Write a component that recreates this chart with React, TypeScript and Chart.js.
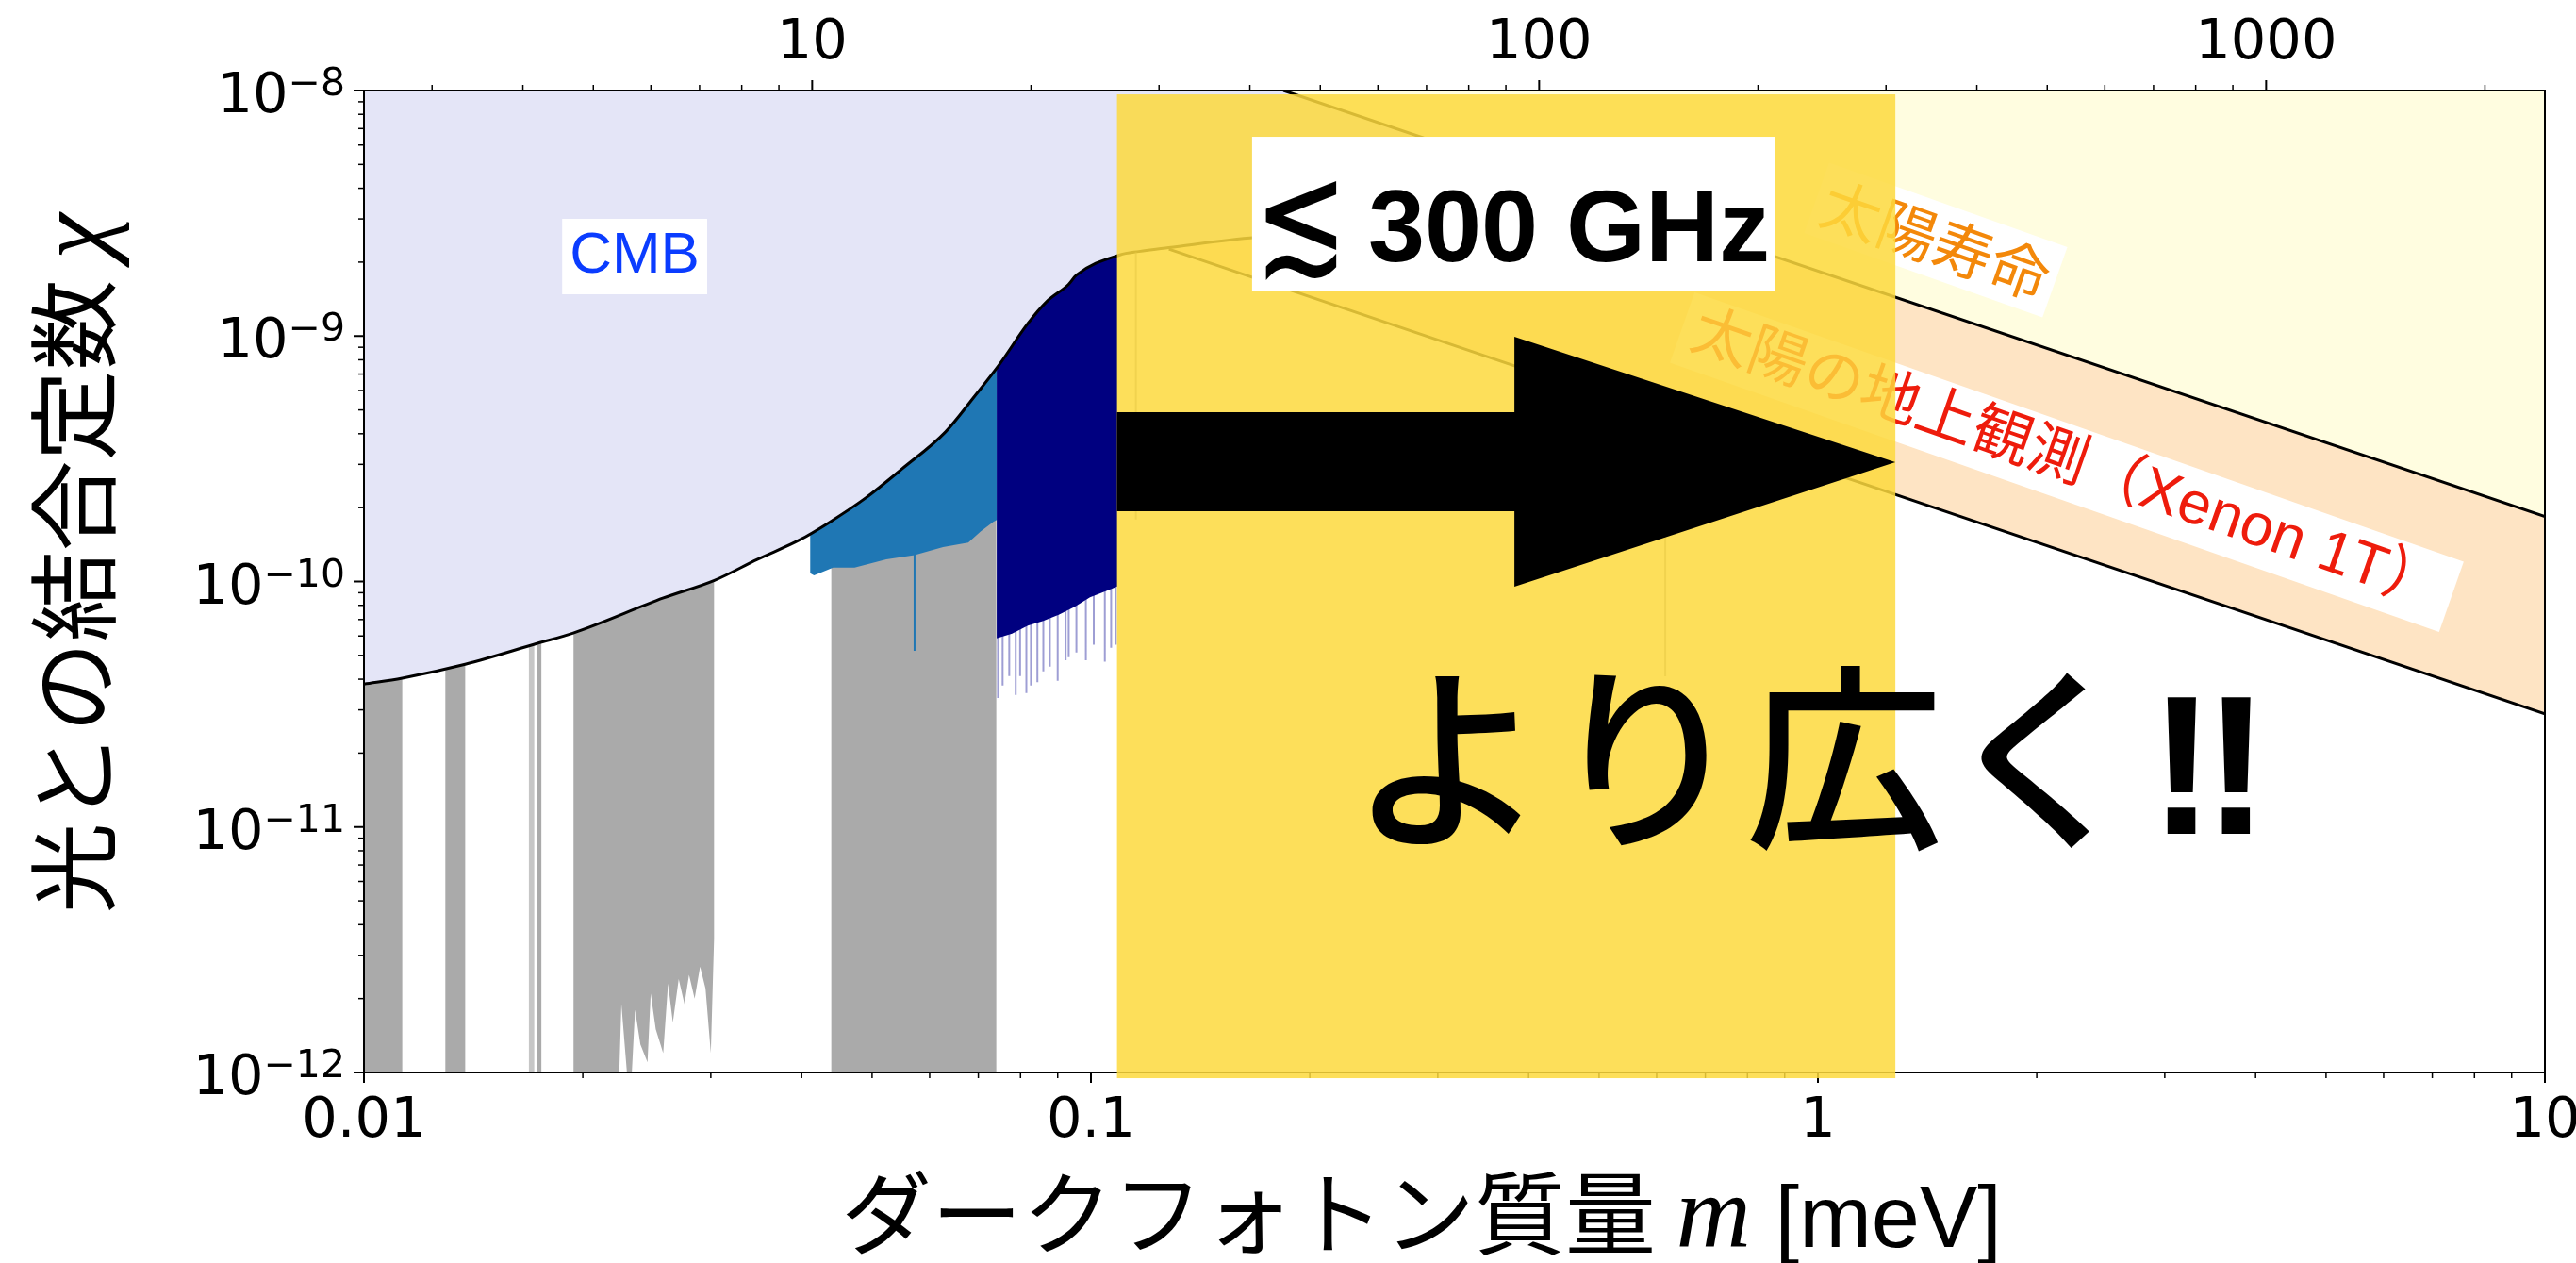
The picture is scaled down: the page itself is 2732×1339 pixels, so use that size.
import React, { useEffect, useRef } from 'react';
import { Chart, registerables } from 'chart.js';

Chart.register(...registerables);

// ---------- axes ----------
const M_MIN = 0.01;
const M_MAX = 10;
const CHI_MIN = 1e-12;
const CHI_MAX = 1e-8;
const GHZ_PER_MEV = 241.8;

const X_TICKS = [0.01, 0.1, 1, 10];
const X_TICK_LABELS = ['0.01', '0.1', '1', '10'];
const GHZ_TICKS = [10, 100, 1000];
const GHZ_TICK_LABELS = ['10', '100', '1000'];
const Y_TICKS = [1e-8, 1e-9, 1e-10, 1e-11, 1e-12];
const Y_TICK_EXPONENTS = ['\u22128', '\u22129', '\u221210', '\u221211', '\u221212'];

// ---------- CMB limit (black curve, lavender above) ----------
const CMB_M = [0.01, 0.01129, 0.01378, 0.01733, 0.01941, 0.02582, 0.03034, 0.03475, 0.0398, 0.04365, 0.049, 0.055, 0.0631, 0.0692, 0.0748, 0.0818, 0.0869, 0.0931, 0.0955, 0.1096, 0.1164, 0.1279, 0.1683, 0.2188, 0.302, 0.45, 0.76];
const CMB_CHI = [3.82e-11, 4.04e-11, 4.6e-11, 5.6e-11, 6.17e-11, 8.57e-11, 1.01e-10, 1.23e-10, 1.48e-10, 1.74e-10, 2.19e-10, 2.88e-10, 4.07e-10, 5.69e-10, 7.64e-10, 1.12e-9, 1.38e-9, 1.62e-9, 1.77e-9, 2.14e-9, 2.21e-9, 2.29e-9, 2.52e-9, 2.6e-9, 2.63e-9, 2.6e-9, 2.45e-9];

// ---------- solar lifetime & XENON1T lines ----------
const SUN_M = [0.184, 10];
const SUN_CHI = [1e-8, 1.84e-10];
const XENON_M = [0.128, 10];
const XENON_CHI = [2.26e-9, 2.89e-11];

// ---------- haloscope-type bands (gray) ----------
const GRAY_BAND_LEFT = [0.01, 0.01294, 0.01729, 0.04394];
const GRAY_BAND_RIGHT = [0.01129, 0.01378, 0.01754, 0.0741];
const LIGHT_GRAY_BAND = [0.01686, 0.01715];
const GRAY4_M = [0.01942, 0.02245, 0.0226, 0.023, 0.02336, 0.0236, 0.024, 0.02455, 0.0248, 0.0252, 0.0258, 0.0262, 0.0266, 0.0271, 0.0276, 0.028, 0.0285, 0.029, 0.0295, 0.03, 0.03031];
const GRAY4_LOW = [1e-12, 1e-12, 1.9e-12, 1e-12, 1e-12, 1.8e-12, 1.3e-12, 1.1e-12, 2.1e-12, 1.5e-12, 1.2e-12, 2.3e-12, 1.6e-12, 2.4e-12, 1.9e-12, 2.5e-12, 2.0e-12, 2.7e-12, 2.2e-12, 1.2e-12, 3.5e-12];

// ---------- blue region ----------
const BLUE_M = [0.0411, 0.0416, 0.0442, 0.0473, 0.0523, 0.0572, 0.0626, 0.0678, 0.0705, 0.0734, 0.0742];
const BLUE_LOW = [1.08e-10, 1.06e-10, 1.14e-10, 1.14e-10, 1.23e-10, 1.28e-10, 1.38e-10, 1.44e-10, 1.6e-10, 1.75e-10, 1.78e-10];
const BLUE_SPIKE_M = [0.0572];
const BLUE_SPIKE_LOW = [5.22e-11];

// ---------- navy region ----------
const NAVY_M = [0.0742, 0.0779, 0.0819, 0.086, 0.0903, 0.095, 0.0997, 0.1048, 0.1087];
const NAVY_LOW = [5.87e-11, 6.13e-11, 6.61e-11, 6.91e-11, 7.32e-11, 7.89e-11, 8.62e-11, 9.14e-11, 9.55e-11];
const NAVY_SPIKE_M = [0.0745, 0.0756, 0.0772, 0.0788, 0.0799, 0.0815, 0.0827, 0.0844, 0.086, 0.0878, 0.09, 0.0923, 0.0932, 0.0955, 0.0984, 0.1009, 0.1045, 0.1066, 0.1082];
const NAVY_SPIKE_LOW = [3.35e-11, 3.77e-11, 4.12e-11, 3.45e-11, 4.12e-11, 3.51e-11, 3.77e-11, 3.89e-11, 4.31e-11, 4.5e-11, 3.94e-11, 4.78e-11, 4.92e-11, 5.14e-11, 4.78e-11, 5.53e-11, 4.71e-11, 5.37e-11, 5.53e-11];

// ---------- faint edges under the highlight ----------
const FAINT_M = [0.1153, 0.6166];
const FAINT_TOP = [2.2e-9, 4.69e-10];
const FAINT_LOW = [1.79e-10, 4.11e-11];

// ---------- annotations (data coordinates) ----------
const OVERLAY_M = [0.1086, 1.278];
const OVERLAY_CHI = [9.65e-9, 9.48e-13];
const ARROW_M = [0.1086, 0.3824, 0.3824, 1.278, 0.3824, 0.3824, 0.1086];
const ARROW_CHI = [4.89e-10, 4.89e-10, 9.93e-10, 3.06e-10, 9.53e-11, 1.933e-10, 1.933e-10];
const GHZ_BOX_M = [0.1666, 0.874];
const GHZ_BOX_CHI = [6.48e-9, 1.519e-9];
const CMB_LABEL_POS = [0.02357, 2.107e-9];
const SUN_LABEL_POS = [1.4527, 2.46e-9];
const XENON_LABEL_POS = [2.2, 3.062e-10];
const BIG_TEXT_POS = [0.2266, 9.37e-12];

const LAVENDER = '#e4e5f7';
const LIGHT_YELLOW = '#fffde0';
const PEACH = '#fee4c4';
const GRAY = '#aaaaaa';
const NAVY = '#000080';
const TAB_BLUE = '#1f77b4';
const HIGHLIGHT = 'rgba(253,217,61,0.85)';

const pts = (xs: number[], ys: number[]) => xs.map((x, i) => ({ x, y: ys[i] }));
const rect = (m0: number, m1: number, lo: number, hi: number) => [
  { x: m0, y: lo }, { x: m1, y: lo }, { x: m1, y: hi }, { x: m0, y: hi },
];
const lowerPoly = (xs: number[], lows: number[]) => [
  ...pts(xs, lows),
  { x: xs[xs.length - 1], y: CHI_MAX },
  { x: xs[0], y: CHI_MAX },
];
const spikes = (xs: number[], lows: number[], top: number) => {
  const out: { x: number; y: number | null }[] = [];
  xs.forEach((x, i) => {
    out.push({ x, y: lows[i] }, { x, y: top }, { x, y: null });
  });
  return out;
};

const poly = (data: any[], color: string, order: number) => ({
  data, fill: 'shape', backgroundColor: color, borderColor: 'transparent', borderWidth: 0,
  pointRadius: 0, pointHoverRadius: 0, order,
});
const line = (data: any[], color: string, width: number, order: number, extra: any = {}) => ({
  data, fill: false, borderColor: color, borderWidth: width, pointRadius: 0, pointHoverRadius: 0, order, ...extra,
});

function buildDatasets() {
  const ds: any[] = [];
  ds.push(poly([{ x: XENON_M[0], y: XENON_CHI[0] }, { x: XENON_M[1], y: XENON_CHI[1] }, { x: M_MAX, y: CHI_MAX }, { x: XENON_M[0], y: CHI_MAX }], PEACH, 100));
  GRAY_BAND_LEFT.forEach((l, i) => ds.push(poly(rect(l, GRAY_BAND_RIGHT[i], CHI_MIN, CHI_MAX), GRAY, 90)));
  ds.push(poly(rect(LIGHT_GRAY_BAND[0], LIGHT_GRAY_BAND[1], CHI_MIN, CHI_MAX), '#c6c6c6', 90));
  ds.push(poly(lowerPoly(GRAY4_M, GRAY4_LOW), GRAY, 89));
  ds.push(line(spikes(NAVY_SPIKE_M, NAVY_SPIKE_LOW, 1e-10), 'rgba(40,40,160,0.45)', 2, 85, { spanGaps: false }));
  ds.push(poly(lowerPoly(BLUE_M, BLUE_LOW), TAB_BLUE, 84));
  ds.push(line(spikes(BLUE_SPIKE_M, BLUE_SPIKE_LOW, 1.3e-10), TAB_BLUE, 2, 83, { spanGaps: false }));
  ds.push(poly(lowerPoly(NAVY_M, NAVY_LOW), NAVY, 82));
  ds.push({
    data: pts(CMB_M, CMB_CHI), fill: 'end', backgroundColor: LAVENDER, borderColor: '#000', borderWidth: 3,
    pointRadius: 0, pointHoverRadius: 0, cubicInterpolationMode: 'monotone', order: 70,
  });
  ds.push(poly([{ x: SUN_M[0], y: SUN_CHI[0] }, { x: SUN_M[1], y: SUN_CHI[1] }, { x: M_MAX, y: CHI_MAX }], LIGHT_YELLOW, 65));
  ds.push(line(pts(SUN_M, SUN_CHI), '#000', 3, 60));
  ds.push(line(pts(XENON_M, XENON_CHI), '#000', 3, 59));
  const faint: any[] = [];
  FAINT_M.forEach((m, i) => faint.push({ x: m, y: FAINT_TOP[i] }, { x: m, y: FAINT_LOW[i] }, { x: m, y: null }));
  ds.push(line(faint, 'rgba(110,110,110,0.55)', 2, 50, { spanGaps: false }));
  return ds;
}

function decadeTicks(lo: number, hi: number) {
  const out: { v: number; major: boolean }[] = [];
  for (let e = Math.floor(Math.log10(lo)) - 1; e <= Math.ceil(Math.log10(hi)); e++) {
    for (let k = 1; k <= 9; k++) {
      const v = k * Math.pow(10, e);
      if (v >= lo * (1 - 1e-9) && v <= hi * (1 + 1e-9)) out.push({ v, major: k === 1 });
    }
  }
  return out;
}

const TICK_FONT = '59px "DejaVu Sans"';
const EXP_FONT = '41px "DejaVu Sans"';
const CJK = '"Noto Sans CJK JP"';

const annotate = {
  id: 'annotate',
  afterDatasetsDraw(chart: any) {
    const ctx: CanvasRenderingContext2D = chart.ctx;
    const xs = chart.scales.x, ys = chart.scales.y, xg = chart.scales.x2;
    const X = (m: number) => xs.getPixelForValue(m);
    const Y = (c: number) => ys.getPixelForValue(c);
    const { left, right, top, bottom } = chart.chartArea;
    ctx.save();

    // frame
    ctx.strokeStyle = '#000';
    ctx.lineWidth = 2;
    ctx.strokeRect(left, top, right - left, bottom - top);

    // ticks
    const seg = (x0: number, y0: number, x1: number, y1: number, w: number) => {
      ctx.lineWidth = w; ctx.beginPath(); ctx.moveTo(x0, y0); ctx.lineTo(x1, y1); ctx.stroke();
    };
    for (const t of decadeTicks(M_MIN, M_MAX)) {
      const px = X(t.v);
      seg(px, bottom, px, bottom + (t.major ? 11 : 6), t.major ? 2 : 1.5);
    }
    for (const t of decadeTicks(M_MIN * GHZ_PER_MEV, M_MAX * GHZ_PER_MEV)) {
      const px = xg.getPixelForValue(t.v);
      seg(px, top, px, top - (t.major ? 11 : 6), t.major ? 2 : 1.5);
    }
    for (const t of decadeTicks(CHI_MIN, CHI_MAX)) {
      const py = Y(t.v);
      seg(left, py, left - (t.major ? 11 : 6), py, t.major ? 2 : 1.5);
    }

    // tick labels
    ctx.fillStyle = '#000';
    ctx.font = TICK_FONT;
    ctx.textAlign = 'center';
    ctx.textBaseline = 'alphabetic';
    X_TICKS.forEach((v, i) => ctx.fillText(X_TICK_LABELS[i], X(v), bottom + 68));
    GHZ_TICKS.forEach((v, i) => ctx.fillText(GHZ_TICK_LABELS[i], xg.getPixelForValue(v), top - 34));
    ctx.textAlign = 'left';
    Y_TICKS.forEach((v, i) => {
      const py = Y(v);
      ctx.font = EXP_FONT;
      const ew = ctx.measureText(Y_TICK_EXPONENTS[i]).width;
      ctx.font = TICK_FONT;
      const bw = ctx.measureText('10').width;
      const xr = left - 20;
      ctx.fillText('10', xr - ew - bw, py + 23);
      ctx.font = EXP_FONT;
      ctx.fillText(Y_TICK_EXPONENTS[i], xr - ew, py + 5);
    });

    // axis titles
    {
      const p1 = 'ダークフォトン質量 ';
      const p2 = 'm';
      const p3 = ' [meV]';
      const f1 = `96px ${CJK}`, f2 = 'italic 110px "Liberation Serif"', f3 = '92px "Liberation Sans"';
      ctx.font = f1; const w1 = ctx.measureText(p1).width;
      ctx.font = f2; const w2 = ctx.measureText(p2).width;
      ctx.font = f3; const w3 = ctx.measureText(p3).width;
      const cx = (left + right) / 2 - 35;
      let x0 = cx - (w1 + w2 + w3) / 2;
      const by = bottom + 185;
      ctx.font = f1; ctx.fillText(p1, x0, by); x0 += w1;
      ctx.font = f2; ctx.fillText(p2, x0, by); x0 += w2;
      ctx.font = f3; ctx.fillText(p3, x0, by);
    }
    {
      const p1 = '光との結合定数 ';
      const p2 = 'χ';
      const f1 = `96px ${CJK}`, f2 = 'italic 110px "Liberation Serif"';
      ctx.font = f1; const w1 = ctx.measureText(p1).width;
      ctx.font = f2; const w2 = ctx.measureText(p2).width;
      ctx.save();
      ctx.translate(left - 272, (top + bottom) / 2 - 19);
      ctx.rotate(-Math.PI / 2);
      let x0 = -(w1 + w2) / 2;
      ctx.font = f1; ctx.fillText(p1, x0, 0); x0 += w1;
      ctx.font = f2; ctx.fillText(p2, x0, 0);
      ctx.restore();
    }

    // boxed labels (under the highlight)
    const boxed = (text: string, cx: number, cy: number, deg: number, font: string, size: number, color: string, padX: number, padY: number) => {
      ctx.save();
      ctx.translate(cx, cy);
      ctx.rotate((deg * Math.PI) / 180);
      ctx.font = font;
      const w = ctx.measureText(text).width;
      ctx.fillStyle = '#fff';
      ctx.fillRect(-w / 2 - padX, -size / 2 - padY, w + 2 * padX, size + 2 * padY);
      ctx.fillStyle = color;
      ctx.textAlign = 'center';
      ctx.textBaseline = 'middle';
      ctx.fillText(text, 0, 0);
      ctx.restore();
    };
    boxed('CMB', X(CMB_LABEL_POS[0]), Y(CMB_LABEL_POS[1]), 0, '62px "Liberation Sans"', 62, '#0a3cff', 8, 9);
    boxed('太陽寿命', X(SUN_LABEL_POS[0]), Y(SUN_LABEL_POS[1]), 19.5, `63px ${CJK}`, 63, '#f3880a', 8, 8);
    boxed('太陽の地上観測（Xenon 1T）', X(XENON_LABEL_POS[0]), Y(XENON_LABEL_POS[1]), 19.3, `63px "Liberation Sans", ${CJK}`, 63, '#ee1c0c', 12, 8);

    // highlight band
    ctx.fillStyle = HIGHLIGHT;
    const ox0 = X(OVERLAY_M[0]), ox1 = X(OVERLAY_M[1]);
    const oy0 = Y(OVERLAY_CHI[0]), oy1 = Y(OVERLAY_CHI[1]);
    ctx.fillRect(ox0, oy0, ox1 - ox0, oy1 - oy0);

    // arrow
    ctx.fillStyle = '#000';
    ctx.beginPath();
    ARROW_M.forEach((m, i) => {
      const px = X(m), py = Y(ARROW_CHI[i]);
      if (i === 0) ctx.moveTo(px, py); else ctx.lineTo(px, py);
    });
    ctx.closePath();
    ctx.fill();

    // 300 GHz box
    const bx0 = X(GHZ_BOX_M[0]), bx1 = X(GHZ_BOX_M[1]);
    const by0 = Y(GHZ_BOX_CHI[0]), by1 = Y(GHZ_BOX_CHI[1]);
    ctx.fillStyle = '#fff';
    ctx.fillRect(bx0, by0, bx1 - bx0, by1 - by0);
    ctx.fillStyle = '#000';
    {
      ctx.font = '200 100px "DejaVu Sans"';
      ctx.textAlign = 'left';
      ctx.textBaseline = 'alphabetic';
      const mt = ctx.measureText('≲');
      const gw = mt.actualBoundingBoxLeft + mt.actualBoundingBoxRight;
      const gh = mt.actualBoundingBoxAscent + mt.actualBoundingBoxDescent;
      ctx.save();
      ctx.translate(bx0 + 14, by0 + 46);
      ctx.scale(76 / gw, 107 / gh);
      ctx.fillText('≲', mt.actualBoundingBoxLeft, mt.actualBoundingBoxAscent);
      ctx.restore();
    }
    ctx.font = 'bold 108px "Liberation Sans"';
    ctx.textAlign = 'left';
    ctx.textBaseline = 'alphabetic';
    ctx.fillText('300 GHz', bx0 + 123, by0 + 132);

    // big message
    {
      const j = 'より広く';
      const e = '!!';
      const fj = `500 210px ${CJK}`;
      const fe = 'bold 210px "Liberation Sans"';
      const x0 = X(BIG_TEXT_POS[0]);
      const y0 = Y(BIG_TEXT_POS[1]);
      ctx.textAlign = 'left';
      ctx.font = fj;
      const wj = ctx.measureText(j).width;
      ctx.fillText(j, x0, y0);
      ctx.font = fe;
      const c: any = ctx;
      const prevLS = c.letterSpacing;
      c.letterSpacing = '-12px';
      ctx.fillText(e, x0 + wj + 8, y0);
      c.letterSpacing = prevLS || '0px';
    }

    ctx.restore();
  },
};

export default function App() {
  const ref = useRef<HTMLCanvasElement>(null);
  useEffect(() => {
    const canvas = ref.current;
    if (!canvas) return;
    const hidden = { display: false };
    const chart = new Chart(canvas, {
      type: 'line',
      data: { datasets: buildDatasets() },
      options: {
        responsive: false,
        maintainAspectRatio: false,
        animation: false,
        events: [],
        layout: { padding: 0 },
        plugins: { legend: { display: false }, tooltip: { enabled: false } },
        scales: {
          x: {
            type: 'logarithmic', position: 'bottom', min: M_MIN, max: M_MAX,
            ticks: hidden, grid: hidden, border: hidden,
            afterFit: (s: any) => { s.height = 202; },
          },
          x2: {
            type: 'logarithmic', position: 'top', min: M_MIN * GHZ_PER_MEV, max: M_MAX * GHZ_PER_MEV,
            ticks: hidden, grid: hidden, border: hidden,
            afterFit: (s: any) => { s.height = 96; },
          },
          y: {
            type: 'logarithmic', position: 'left', min: CHI_MIN, max: CHI_MAX,
            ticks: hidden, grid: hidden, border: hidden,
            afterFit: (s: any) => { s.width = 386; },
          },
          y2: {
            type: 'linear', position: 'right', min: 0, max: 1,
            ticks: hidden, grid: hidden, border: hidden,
            afterFit: (s: any) => { s.width = 33; },
          },
        },
      } as any,
      plugins: [annotate],
    });
    return () => chart.destroy();
  }, []);
  return (
    <div style={{ position: 'absolute', left: 0, top: 0, width: 2732, height: 1339, overflow: 'hidden', background: '#fff' }}>
      <canvas ref={ref} width={2732} height={1339} style={{ display: 'block', width: 2732, height: 1339 }} />
    </div>
  );
}
